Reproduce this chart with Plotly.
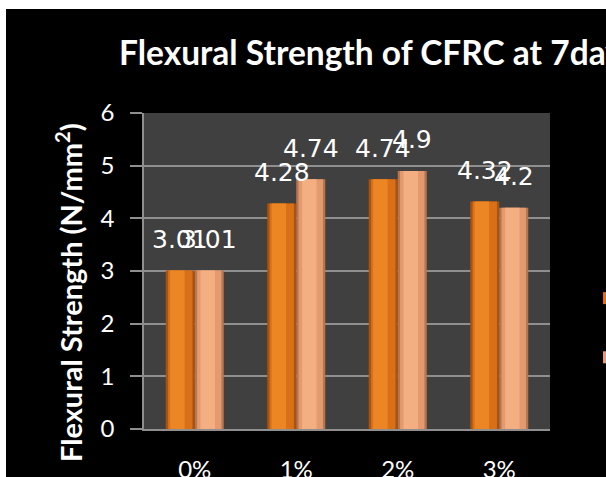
import plotly.graph_objects as go

categories = ["0%", "1%", "2%", "3%"]
series1_values = [3.01, 4.28, 4.74, 4.32]
series2_values = [3.01, 4.74, 4.9, 4.2]
series_names = ["Series1", "Series2"]
y_ticks = [0, 1, 2, 3, 4, 5, 6]

W, H = 606, 477
L, R, T, B = 144, 56, 113, 48
PW, PH = W - L - R, H - T - B


def px_x(p):
    return (p - L) / PW


def px_y(p):
    return (H - B - p) / PH


BW = 0.2857  # bar width in category units
# shading layers for the cylinder look: (colour, width fraction, centre shift fraction)
shades = [
    [("#A9530F", 1.0, 0.0), ("#D96F17", 0.84, 0.0), ("#EC8624", 0.5, -0.1)],
    [("#B87650", 1.0, 0.0), ("#E39A6E", 0.84, 0.0), ("#F3AE82", 0.5, -0.05)],
]
offsets = [-BW, 0.0]

fig = go.Figure()
for name, vals, layers, off, grp in zip(series_names, [series1_values, series2_values],
                                        shades, offsets, ["a", "b"]):
    for i, (col, wf, sh) in enumerate(layers):
        w = BW * wf
        o = off + (BW - w) / 2 + sh * BW
        fig.add_trace(go.Bar(
            x=categories, y=vals, name=name, legendgroup=grp,
            showlegend=(i == 1), width=w, offset=o,
            marker=dict(color=col, line=dict(width=0)),
            hoverinfo="skip" if i != 1 else None,
        ))

label_font = dict(family="DejaVu Sans", size=25, color="white")
for vals, off in zip([series1_values, series2_values], [-14.5, 14.5]):
    for cat, v in zip(categories, vals):
        fig.add_annotation(x=cat, y=v, xref="x", yref="y", text=f"{v:g}",
                           showarrow=False, xshift=off, yshift=31,
                           xanchor="center", yanchor="middle", font=label_font)

fig.add_annotation(text="Flexural Strength (N/mm<sup>2</sup>)", xref="paper", yref="paper",
                   x=px_x(69), y=px_y(293), textangle=-90, showarrow=False,
                   xanchor="center", yanchor="middle",
                   font=dict(family="Lato", size=29, color="white", weight="bold"))

shapes = [
    dict(type="rect", xref="paper", yref="paper", x0=px_x(-2), x1=px_x(W + 2),
         y0=px_y(9), y1=px_y(-2), fillcolor="white", line=dict(width=0), layer="above"),
    dict(type="rect", xref="paper", yref="paper", x0=px_x(-2), x1=px_x(6),
         y0=px_y(H + 2), y1=px_y(-2), fillcolor="white", line=dict(width=0), layer="above"),
]

fig.update_layout(
    width=W, height=H,
    margin=dict(l=L, r=R, t=T, b=B, autoexpand=False),
    paper_bgcolor="black", plot_bgcolor="#404040",
    barmode="overlay",
    title=dict(text="<b>Flexural Strength of CFRC at 7days</b>", xref="container", yref="container",
               x=119 / W, xanchor="left", y=1 - 53 / H, yanchor="middle",
               font=dict(family="Lato", size=33.5, color="white")),
    showlegend=True,
    legend=dict(x=px_x(589), xanchor="left", y=px_y(276), yanchor="top",
                font=dict(family="Lato", size=24, color="white"),
                tracegroupgap=25, bgcolor="rgba(0,0,0,0)"),
    shapes=shapes,
    font=dict(family="Lato", color="white"),
)
fig.update_yaxes(range=[0, 6], tickvals=y_ticks, showgrid=True, gridcolor="#8F8F8F", gridwidth=1.5,
                 showline=True, linecolor="#8F8F8F", linewidth=1.5,
                 ticks="outside", ticklen=12, tickcolor="#8F8F8F", tickwidth=1.5,
                 ticklabelstandoff=11, zeroline=False,
                 tickfont=dict(family="Lato", size=24, color="white"))
fig.update_xaxes(showline=True, linecolor="#8F8F8F", linewidth=1.5, ticks="",
                 ticklabelstandoff=18,
                 tickfont=dict(family="Lato", size=24, color="white"))

fig.write_html("out.html")
